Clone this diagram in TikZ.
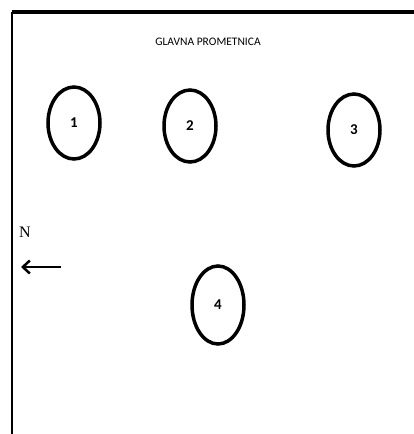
\documentclass[tikz,border=0pt]{standalone}
\usepackage{fontspec}
\setmainfont{Carlito}
\newfontfamily\serifN{Liberation Serif}
\usetikzlibrary{arrows.meta,shapes.geometric}
\begin{document}
\begin{tikzpicture}[x=1pt,y=-1pt,
  spot/.style={draw,ellipse,line width=3.5pt,minimum width=52pt,minimum height=72pt,inner sep=0pt,font=\fontsize{15}{17}\selectfont\bfseries},
  ]
\useasboundingbox (0,0) rectangle (414,434);
\fill[white] (0,0) rectangle (414,434);
\coordinate (tl) at (11.5,12);
\coordinate (tr) at (414,12);
\coordinate (bl) at (11.5,434);
\draw[line width=3.5pt] (tl) -- (tr);
\draw[line width=2pt] (tl) -- (bl);
\node[font=\fontsize{11.5}{13}\selectfont] (title) at (208,42) {GLAVNA PROMETNICA};
\node[spot] (s1) at (74,123) {1};
\node[spot] (s2) at (190,126) {2};
\node[spot] (s3) at (354,130) {3};
\node[spot,minimum height=78pt] (s4) at (218,305) {4};
\node[font=\serifN\fontsize{16}{18}\selectfont] (n) at (25,232) {N};
\coordinate (ae) at (61,267);
\coordinate (as) at (21,267);
\draw[line width=2.5pt,-{Straight Barb[length=7pt,width=13pt]}] (ae) -- (as);
\end{tikzpicture}
\end{document}
